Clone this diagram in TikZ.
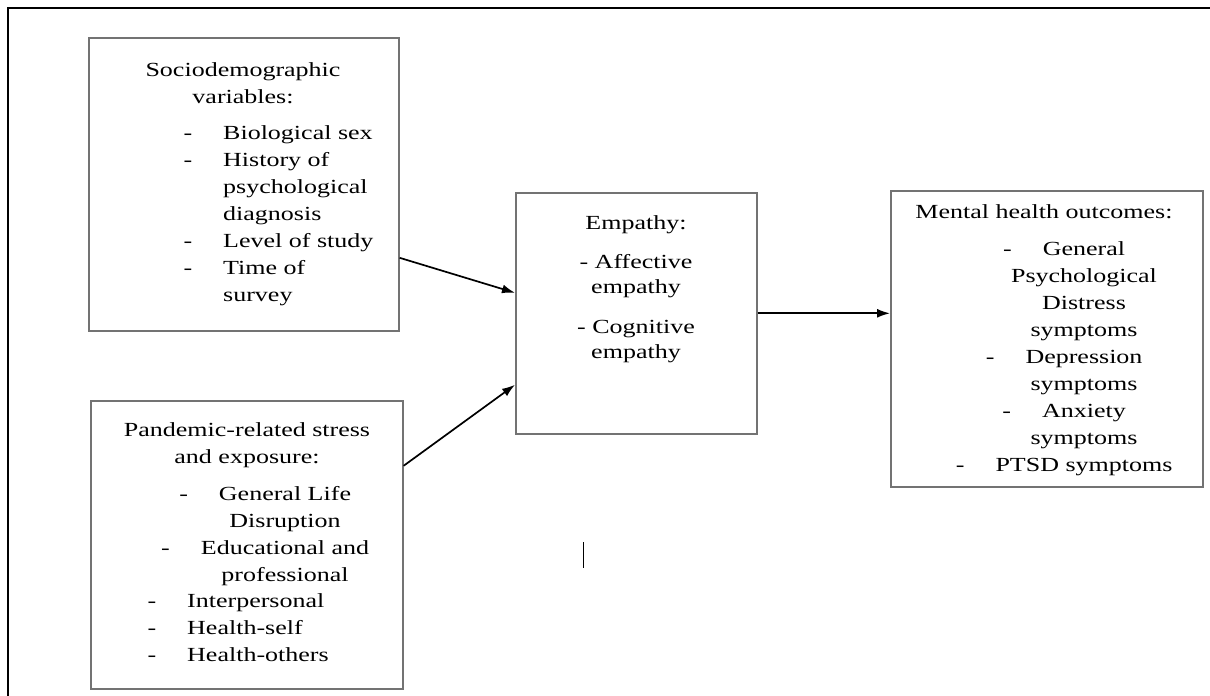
\documentclass[tikz,border=0pt]{standalone}
\usepackage{fontspec}
\setmainfont{Liberation Serif}[FakeStretch=1.3]
\usetikzlibrary{arrows.meta}
\newcommand{\dashitem}{\llap{-\hspace{31pt}}}

\begin{document}
\begin{tikzpicture}[x=1pt, y=-1pt,
    box/.style={draw=black!55, line width=1.6pt, inner sep=0pt, anchor=north west},
    txt/.style={font=\fontsize{20}{27}\selectfont, inner sep=0pt},
    link/.style={-{Latex[length=13pt, width=9pt]}, line width=1.7pt}]
  \useasboundingbox (0,0) rectangle (1210,696);
  \draw[line width=1.8pt] (1210,8) -- (8,8) -- (8,696);

  % boxes
  \node(socio) at (88,37) [box, minimum width=310pt, minimum height=293pt] {};
  \node(pand) at (90,400) [box, minimum width=312pt, minimum height=288pt] {};
  \node(emp) at (515,192) [box, minimum width=241pt, minimum height=241pt] {};
  \node(mental) at (890,190) [box, minimum width=312pt, minimum height=296pt] {};

  % texts (base = last line)
  \node(sociohead) at (243,103) [txt, align=center, anchor=base] {Sociodemographic\\variables:};
  \node(sociolist) at (223,301) [txt, align=left, anchor=base west]
    {\dashitem Biological sex\\\dashitem History of\\psychological\\diagnosis\\
     \dashitem Level of study\\\dashitem Time of\\survey};
  \node(pandhead) at (247,463) [txt, align=center, anchor=base] {Pandemic-related stress\\and exposure:};
  \node(pandlista) at (285,581) [txt, align=center, anchor=base]
    {\dashitem General Life\\Disruption\\\dashitem Educational and\\professional};
  \node(pandlistb) at (187,661) [txt, align=left, anchor=base west]
    {\dashitem Interpersonal\\\dashitem Health-self\\\dashitem Health-others};
  \node(emptext) at (636,358) [txt, font=\fontsize{20}{25}\selectfont, align=center, anchor=base]
    {Empathy:\\[14pt]- Affective\\empathy\\[15pt]- Cognitive\\empathy};
  \node(mentalhead) at (1044,218) [txt, anchor=base] {Mental health outcomes:};
  \node(mentallist) at (1084,471) [txt, align=center, anchor=base]
    {\dashitem General\\Psychological\\Distress\\symptoms\\\dashitem Depression\\symptoms\\
     \dashitem Anxiety\\symptoms\\\dashitem PTSD symptoms};

  % arrows
  \draw[link] ([yshift=-73.5pt]socio.east) -- ([yshift=20.5pt]emp.west);
  \draw[link] ([yshift=79pt]pand.east) -- ([yshift=-71.5pt]emp.west);
  \draw[link] (emp.east) -- (emp.east -| mental.west);

  \draw[line width=1pt] (583,542) -- (583,568);
\end{tikzpicture}
\end{document}
